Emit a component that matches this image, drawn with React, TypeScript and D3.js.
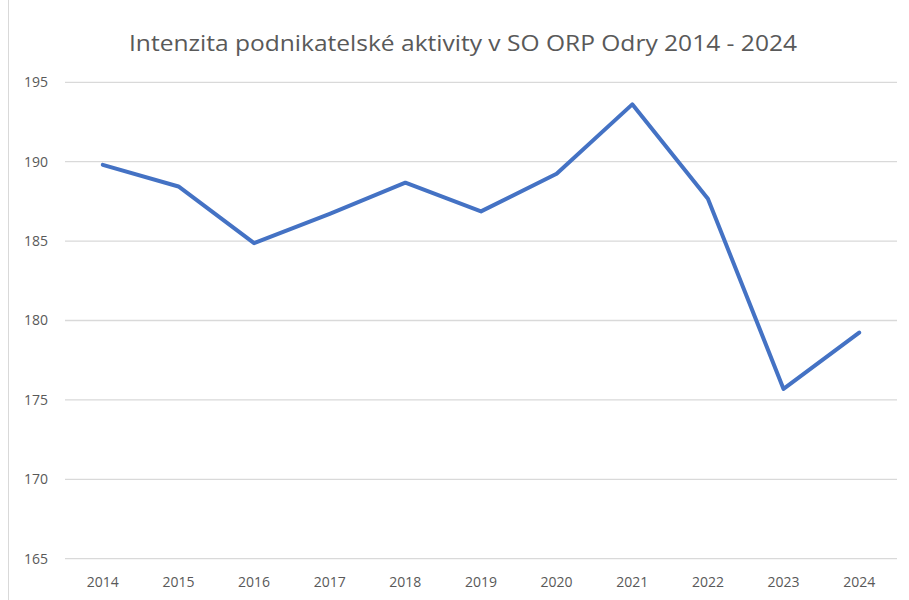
import React from "react";
import * as d3 from "d3";

const years = ["2014","2015","2016","2017","2018","2019","2020","2021","2022","2023","2024"];
const values = [189.8, 188.44, 184.87, 186.72, 188.68, 186.87, 189.24, 193.61, 187.67, 175.69, 179.24];
const yTicks = [165, 170, 175, 180, 185, 190, 195];
const title = "Intenzita podnikatelské aktivity v SO ORP Odry 2014 - 2024";

export default function App() {
  const W = 909, H = 600;
  const left = 65, right = 897, top = 82.3, bottom = 558.7;
  const x = d3.scaleBand<string>().domain(years).range([left, right]);
  const y = d3.scaleLinear().domain([165, 195]).range([bottom, top]);
  const line = d3.line<number>()
    .x((_, i) => (x(years[i]) as number) + x.bandwidth() / 2)
    .y((d) => y(d));
  const font = "'Open Sans', sans-serif";
  return (
    <svg width={W} height={H} style={{ position: "absolute", left: 0, top: 0 }}>
      <rect x={0} y={0} width={W} height={H} fill="#fff" />
      <line x1={8.5} x2={8.5} y1={0} y2={H} stroke="#d9d9d9" strokeWidth={1} />
      {yTicks.map((t) => (
        <g key={t}>
          <line x1={left} x2={right} y1={y(t)} y2={y(t)} stroke="#d9d9d9" strokeWidth={1.3} />
          <text x={48} y={y(t)} dy="0.35em" textAnchor="end" fontFamily={font} fontSize={14} fill="#595959">{t}</text>
        </g>
      ))}
      {years.map((yr) => (
        <text key={yr} x={(x(yr) as number) + x.bandwidth() / 2} y={587} textAnchor="middle" fontFamily={font} fontSize={14} fill="#595959">{yr}</text>
      ))}
      <path d={line(values) || ""} fill="none" stroke="#4472C4" strokeWidth={4} strokeLinejoin="round" strokeLinecap="round" />
      <text x={463} y={51} textAnchor="middle" fontFamily={font} fontSize={21} fill="#595959" textLength={668} lengthAdjust="spacingAndGlyphs">{title}</text>
    </svg>
  );
}
